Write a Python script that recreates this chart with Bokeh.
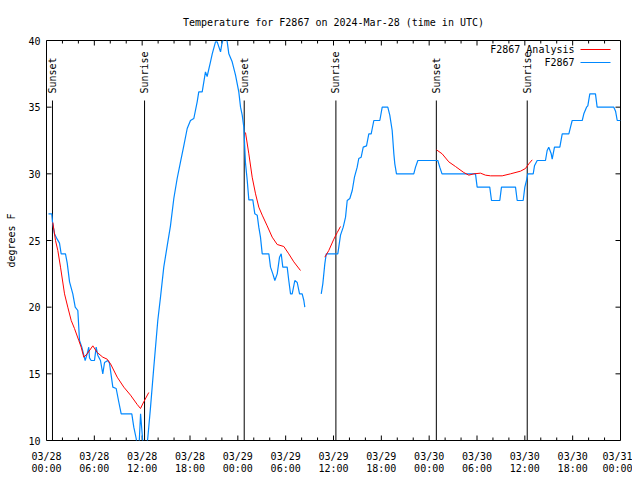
import math
from bokeh.plotting import figure
from bokeh.models import Range1d, LinearAxis, FixedTicker
from bokeh.embed import file_html
from bokeh.resources import INLINE
from bokeh.core.properties import value

TITLE = "Temperature for F2867 on 2024-Mar-28 (time in UTC)"
Y_LABEL = "degrees F"

# x in hours since 2024-03-28 00:00 UTC
x_ticks = [0, 6, 12, 18, 24, 30, 36, 42, 48, 54, 60, 66, 72]
x_tick_labels = ["03/28\n00:00", "03/28\n06:00", "03/28\n12:00", "03/28\n18:00",
                 "03/29\n00:00", "03/29\n06:00", "03/29\n12:00", "03/29\n18:00",
                 "03/30\n00:00", "03/30\n06:00", "03/30\n12:00", "03/30\n18:00",
                 "03/31\n00:00"]
x_minor = [h for h in range(0, 73, 2) if h % 6 != 0]
y_ticks = [10, 15, 20, 25, 30, 35, 40]

sun_hours = [0.75, 12.3, 24.8, 36.3, 48.9, 60.3]
sun_labels = ["Sunset", "Sunrise", "Sunset", "Sunrise", "Sunset", "Sunrise"]

legend_labels = ["F2867 Analysis", "F2867"]

# observed F2867 temperature (two segments with a data gap)
obs1_hours = [0.25, 0.66, 0.75, 1.0, 1.34, 1.63, 1.84, 2.38, 2.6, 2.89, 3.3, 3.6, 3.93, 4.14,
              4.43, 4.68, 4.85, 5.1, 5.3, 5.39, 5.6, 6.02, 6.23, 6.43, 6.77, 7.06, 7.28, 7.69,
              7.9, 8.32, 8.74, 9.03, 9.37, 10.7, 10.95, 11.25, 11.4, 11.6, 11.8, 12.13, 12.54,
              12.7, 13.05, 13.46, 13.96, 14.3, 14.71, 15.14, 15.55, 15.97, 16.39, 16.81, 17.22,
              17.65, 18.06, 18.48, 18.9, 19.1, 19.53, 19.94, 20.15, 20.57, 20.79, 21.2, 21.41,
              21.83, 22.04, 22.45, 22.67, 22.87, 23.29, 23.71, 24.12, 24.34, 24.55, 24.75,
              24.96, 25.18, 25.38, 25.88, 26.13, 26.43, 26.63, 26.84, 27.06, 27.89, 28.1,
              28.39, 28.64, 28.94, 29.23, 29.44, 29.64, 30.19, 30.39, 30.61, 30.82, 31.15,
              31.45, 31.74, 32.07, 32.28, 32.4]
obs1_temp = [27.0, 27.0, 26.4, 25.5, 25.1, 24.8, 24.0, 24.0, 23.3, 21.9, 21.0, 20.0, 19.75, 17.5,
             17.0, 16.4, 16.0, 16.5, 17.0, 16.2, 16.0, 16.0, 17.0, 16.4, 16.0, 15.0, 15.85, 16.0,
             15.8, 14.0, 13.9, 13.0, 12.0, 12.0, 11.0, 10.15, 9.5, 9.5, 12.0, 9.5, 9.5,
             10.15, 12.5, 15.5, 19.0, 20.75, 23.0, 24.6, 26.1, 28.15, 29.65, 30.9, 32.1,
             33.4, 34.0, 34.15, 35.4, 36.15, 36.15, 37.65, 37.3, 38.4, 39.0, 39.9, 39.9,
             39.15, 39.9, 40.3, 39.9, 39.0, 38.4, 37.4, 36.15, 35.0, 34.4, 33.5,
             30.8, 29.5, 28.05, 28.05, 27.0, 26.9, 26.0, 25.25, 24.0, 24.0, 23.0,
             22.5, 22.0, 22.5, 23.75, 24.0, 23.0, 23.0, 22.0, 21.0, 21.0, 22.0,
             21.85, 21.0, 21.0, 20.5, 20.0]

obs2_hours = [34.46, 34.66, 34.91, 35.09, 36.54, 36.88, 37.22, 37.51, 37.72, 38.05, 38.35, 38.63,
              38.97, 39.17, 39.47, 39.73, 40.14, 40.43, 40.73, 40.86, 41.06, 41.81, 42.11, 42.81,
              43.06, 43.36, 43.57, 43.69, 43.9, 46.07, 46.29, 46.58, 49.08, 49.33, 49.61, 53.81,
              54.02, 55.6, 55.82, 56.86, 57.07, 58.83, 59.04, 59.79, 60.0, 60.21, 60.37, 61.05,
              61.21, 61.55, 62.59, 62.8, 63.0, 63.31, 63.43, 63.72, 64.39, 64.69, 65.52, 65.73,
              65.94, 67.2, 67.4, 67.74, 67.9, 68.15, 68.86, 69.07, 71.16, 71.38, 71.59, 72.0]
obs2_temp = [21.0, 21.75, 23.25, 24.0, 24.0, 25.4, 26.0, 26.75, 28.0, 28.15, 28.75, 29.75,
             30.5, 31.15, 31.25, 32.0, 32.1, 33.0, 33.0, 33.4, 34.0, 34.0, 35.0, 35.0,
             34.4, 33.25, 31.5, 30.75, 30.0, 30.0, 30.5, 31.0, 31.0, 30.5, 30.0, 30.0,
             29.0, 29.0, 28.0, 28.0, 29.0, 29.0, 28.0, 28.0, 29.0, 29.5, 30.0, 30.0,
             30.6, 31.0, 31.0, 31.75, 32.0, 31.5, 31.1, 32.0, 32.0, 33.0, 33.0, 33.5,
             34.0, 34.0, 34.5, 35.0, 35.1, 36.0, 36.0, 35.0, 35.0, 34.7, 34.0, 34.0]

# F2867 analysis (four segments)
ana1_hours = [0.79, 1.13, 1.42, 1.76, 2.26, 2.67, 3.1, 3.51, 4.05, 4.35, 4.68, 5.1, 5.81, 6.36,
              7.06, 7.61, 8.03, 8.87, 9.7, 10.54, 11.38, 11.79, 12.2, 12.83]
ana1_temp = [26.35, 25.0, 24.25, 23.0, 21.0, 20.0, 19.0, 18.4, 17.5, 17.0, 16.25, 16.5, 17.1, 16.6,
             16.25, 16.1, 15.75, 14.75, 14.0, 13.4, 12.7, 12.4, 12.9, 13.6]
ana2_hours = [24.96, 25.38, 25.8, 26.22, 26.63, 27.06, 27.68, 28.31, 28.94, 29.77, 30.39, 31.02, 31.86]
ana2_temp = [33.1, 31.5, 29.75, 28.5, 27.5, 26.9, 26.1, 25.25, 24.7, 24.55, 24.0, 23.4, 22.75]
ana3_hours = [34.91, 35.41, 36.04, 36.47, 36.88]
ana3_temp = [23.75, 24.25, 25.1, 25.6, 26.05]
ana4_hours = [48.92, 49.63, 50.46, 51.3, 52.34, 52.97, 53.6, 54.44, 55.07, 55.7, 57.16, 58.2,
              59.46, 60.08, 60.5, 60.93]
ana4_temp = [31.8, 31.5, 30.9, 30.55, 30.1, 29.9, 30.0, 30.05, 29.9, 29.85, 29.85, 30.0,
             30.2, 30.4, 30.75, 31.05]

FONT = "DejaVu Sans Mono"
FS = "10px"
RED = "#ff0000"
BLUE = "#0088ff"
X_MIN, X_MAX = 0, 72
Y_MIN, Y_MAX = 10, 40
SUN_LINE_TOP = 35.5

W, H = 632, 476
B_LEFT, B_RIGHT, B_TOP, B_BOTTOM = 46, 12, 40, 36
FW = W - B_LEFT - B_RIGHT
FH = H - B_TOP - B_BOTTOM
XPX = (X_MAX - X_MIN) / FW   # data units per pixel
YPX = (Y_MAX - Y_MIN) / FH

p = figure(width=W, height=H, x_range=Range1d(X_MIN, X_MAX), y_range=Range1d(Y_MIN, Y_MAX),
           output_backend="svg", toolbar_location=None,
           min_border_left=B_LEFT, min_border_right=B_RIGHT, min_border_top=B_TOP,
           min_border_bottom=B_BOTTOM, x_axis_type=None, y_axis_type=None)
p.title.text = TITLE
p.title.align = "center"
p.title.text_font = FONT
p.title.text_font_size = FS
p.title.text_font_style = "normal"
p.title.text_color = "black"
p.title.standoff = 26
p.grid.visible = False
p.outline_line_color = "black"
p.outline_line_width = 1
p.background_fill_color = "white"
p.border_fill_color = "white"

xt = FixedTicker(ticks=x_ticks, minor_ticks=[])
yt = FixedTicker(ticks=y_ticks, minor_ticks=[])


def style(ax):
    ax.major_tick_line_color = None
    ax.minor_tick_line_color = None
    ax.major_tick_in = 0
    ax.major_tick_out = 0
    ax.minor_tick_in = 0
    ax.minor_tick_out = 0
    ax.axis_line_color = None
    ax.major_label_text_font = FONT
    ax.major_label_text_font_size = FS
    ax.major_label_text_color = "black"


xb = LinearAxis(ticker=xt, major_label_overrides={t: l for t, l in zip(x_ticks, x_tick_labels)})
style(xb)
xb.major_label_standoff = 10
xb.major_label_text_line_height = 1.1
p.add_layout(xb, "below")

yl = LinearAxis(ticker=yt, axis_label=Y_LABEL)
style(yl)
yl.major_label_standoff = 6
yl.axis_label_text_font = FONT
yl.axis_label_text_font_size = FS
yl.axis_label_text_font_style = "normal"
yl.axis_label_text_color = "black"
yl.axis_label_standoff = 8
p.add_layout(yl, "left")

# inward tick marks on all four sides (gnuplot style)
MAJ, MIN = 5, 3
n = len(x_ticks)
m = len(x_minor)
p.segment(x0=x_ticks, x1=x_ticks, y0=[Y_MIN] * n, y1=[Y_MIN + MAJ * YPX] * n, line_color="black")
p.segment(x0=x_ticks, x1=x_ticks, y0=[Y_MAX] * n, y1=[Y_MAX - MAJ * YPX] * n, line_color="black")
p.segment(x0=x_minor, x1=x_minor, y0=[Y_MIN] * m, y1=[Y_MIN + MIN * YPX] * m, line_color="black")
p.segment(x0=x_minor, x1=x_minor, y0=[Y_MAX] * m, y1=[Y_MAX - MIN * YPX] * m, line_color="black")
k = len(y_ticks)
p.segment(x0=[X_MIN] * k, x1=[X_MIN + MAJ * XPX] * k, y0=y_ticks, y1=y_ticks, line_color="black")
p.segment(x0=[X_MAX] * k, x1=[X_MAX - MAJ * XPX] * k, y0=y_ticks, y1=y_ticks, line_color="black")

# sunrise / sunset markers
p.segment(x0=sun_hours, y0=[Y_MIN] * len(sun_hours), x1=sun_hours,
          y1=[SUN_LINE_TOP] * len(sun_hours), line_color="black", line_width=1)
p.text(x=sun_hours, y=[SUN_LINE_TOP] * len(sun_hours), text=sun_labels, angle=math.pi / 2,
       text_align="left", text_baseline="middle", y_offset=-7,
       text_font=value(FONT), text_font_size=FS, text_color="black")

# data
p.line(obs1_hours, obs1_temp, line_color=BLUE, line_width=1.2)
p.line(obs2_hours, obs2_temp, line_color=BLUE, line_width=1.2)
for hx, ty in [(ana1_hours, ana1_temp), (ana2_hours, ana2_temp),
               (ana3_hours, ana3_temp), (ana4_hours, ana4_temp)]:
    p.line(hx, ty, line_color=RED, line_width=1)

# legend (text left of sample line, as in gnuplot), placed in pixel offsets from frame top-right
legend_colors = [RED, BLUE]
for i, (lab, col) in enumerate(zip(legend_labels, legend_colors)):
    yy = Y_MAX - (9 + 13 * i) * YPX
    p.text(x=[X_MAX - 46 * XPX], y=[yy], text=[lab], text_align="right", text_baseline="middle",
           text_font=value(FONT), text_font_size=FS, text_color="black")
    p.segment(x0=[X_MAX - 40 * XPX], x1=[X_MAX - 10 * XPX], y0=[yy], y1=[yy],
              line_color=col, line_width=1.2)

open("out.html", "w").write(file_html(p, INLINE))
